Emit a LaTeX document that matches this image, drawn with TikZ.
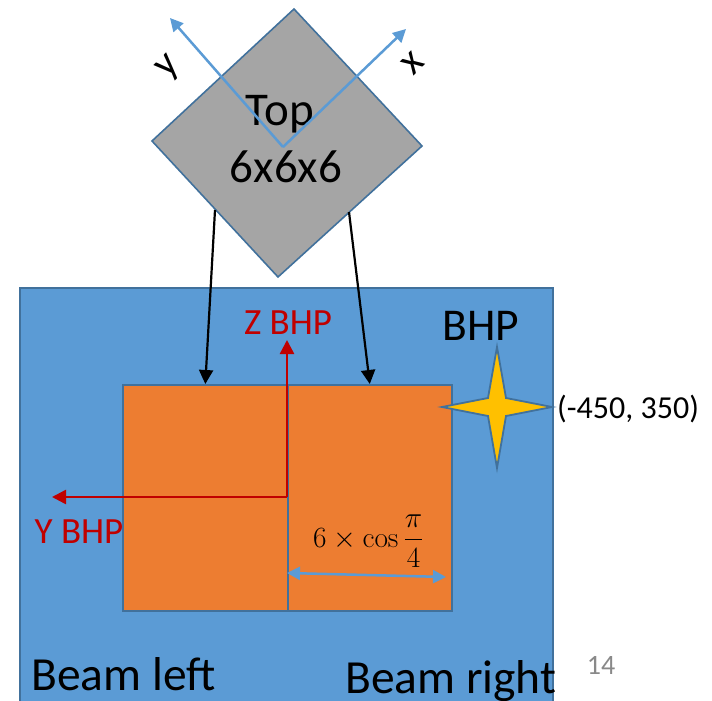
\documentclass[tikz,border=0pt]{standalone}
\usepackage[no-math]{fontspec}
\setmainfont{Carlito}
\usetikzlibrary{arrows.meta}
\definecolor{bluefill}{HTML}{5B9BD5}
\definecolor{edgeblue}{HTML}{41719C}
\definecolor{orangefill}{HTML}{ED7D31}
\definecolor{grayfill}{HTML}{A5A5A5}
\definecolor{starfill}{HTML}{FFC000}
\definecolor{axisred}{HTML}{C00000}
\definecolor{pagegray}{HTML}{898989}
\begin{document}
\begin{tikzpicture}[x=1pt,y=-1pt,
  shapeedge/.style={draw=edgeblue, line width=1.6pt, line join=miter},
  beambox/.style={shapeedge, fill=orangefill, minimum width=165pt, minimum height=226pt, inner sep=0pt, anchor=north west},
  blackarrow/.style={draw=black, line width=2.2pt, -{Triangle[length=14pt,width=14pt]}},
  redaxis/.style={draw=axisred, line width=2.5pt, -{Triangle[length=14pt,width=14pt]}},
  blueaxis/.style={draw=bluefill, line width=2.5pt, -{Triangle[length=13pt,width=13pt]}},
  bluedim/.style={draw=bluefill, line width=2.5pt, {Triangle[length=13pt,width=13pt]}-{Triangle[length=13pt,width=13pt]}},
  redlabel/.style={text=axisred, inner sep=0pt, font=\fontsize{37}{42}\selectfont},
  biglabel/.style={inner sep=0pt, font=\fontsize{47.5}{52}\selectfont},
]
\useasboundingbox (0,0) rectangle (712,701);
\clip (0,0) rectangle (712,701);

% BHP plate
\node[shapeedge, fill=bluefill, minimum width=533pt, minimum height=440pt, inner sep=0pt, anchor=north west] (bhp) at (19,287) {};

% beams
\node[beambox] (beamL) at (122,384) {};
\node[beambox, minimum width=164pt] (beamR) at (287,384) {};

% Top diamond
\coordinate (dT) at (294,9);
\coordinate (dR) at (422,146);
\coordinate (dB) at (278,277);
\coordinate (dL) at (152,141);
\draw[shapeedge, fill=grayfill] (dT) -- (dR) -- (dB) -- (dL) -- cycle;

\node[inner sep=0pt, anchor=base, font=\fontsize{47}{52}\selectfont] (toplabel) at (280,125) {Top};
\node[inner sep=0pt, anchor=base, font=\fontsize{47}{52}\selectfont] (topsize) at (286,182) {6x6x6};

% diamond axes
\coordinate (o) at (283,147);
\coordinate (xt) at (406,29);
\coordinate (yt) at (170,18);
\draw[blueaxis] (o) -- (xt);
\draw[blueaxis] (o) -- (yt);
\node[inner sep=0pt, rotate=45, font=\fontsize{41}{44}\selectfont] (ylab) at (169,68) {y};
\node[inner sep=0pt, rotate=45, font=\fontsize{41}{44}\selectfont] (xlab) at (413,63) {x};

% arrows from diamond
\coordinate (a1) at (215,210);
\coordinate (a2) at (349,212);
\draw[blackarrow] (a1) -- (beamL.north);
\draw[blackarrow] (a2) -- (beamR.north);

% red axes
\coordinate (rc) at (287,497);
\coordinate (ry) at (52,497);
\coordinate (rz) at (287,340);
\draw[redaxis] (rc) -- (rz);
\draw[redaxis] (rc) -- (ry);
\node[redlabel, anchor=base] (zbhp) at (288,334) {Z BHP};
\node[redlabel, anchor=base] (ybhp) at (79,543) {Y BHP};

% BHP label
\node[inner sep=0pt, anchor=base, font=\fontsize{45.5}{50}\selectfont] (bhplab) at (481,340) {BHP};

% star
\draw[shapeedge, fill=starfill, line width=1.8pt]
  (442,407) -- (488,398) -- (497,347) -- (506,398) -- (552,407) -- (506,416) -- (497,468) -- (488,416) -- cycle;
\node[inner sep=0pt, anchor=base west, font=\fontsize{32}{36}\selectfont] (coord) at (557,418) {(-450, 350)};

% dimension
\coordinate (d1) at (287,573);
\coordinate (d2) at (446,577);
\draw[bluedim] (d1) -- (d2);
\node[inner sep=0pt, anchor=base west, scale=1.18, font=\fontsize{24.88}{30}\selectfont] (dimlab) at (313,547) {$\displaystyle 6\times\cos\frac{\pi}{4}$};

% bottom labels
\node[biglabel, anchor=base west] (bl) at (31,690) {Beam left};
\node[biglabel, anchor=base west] (br) at (345,693) {Beam right};
\node[inner sep=0pt, anchor=base, text=pagegray, font=\fontsize{28}{32}\selectfont] (pg) at (601,674) {14};
\end{tikzpicture}
\end{document}
